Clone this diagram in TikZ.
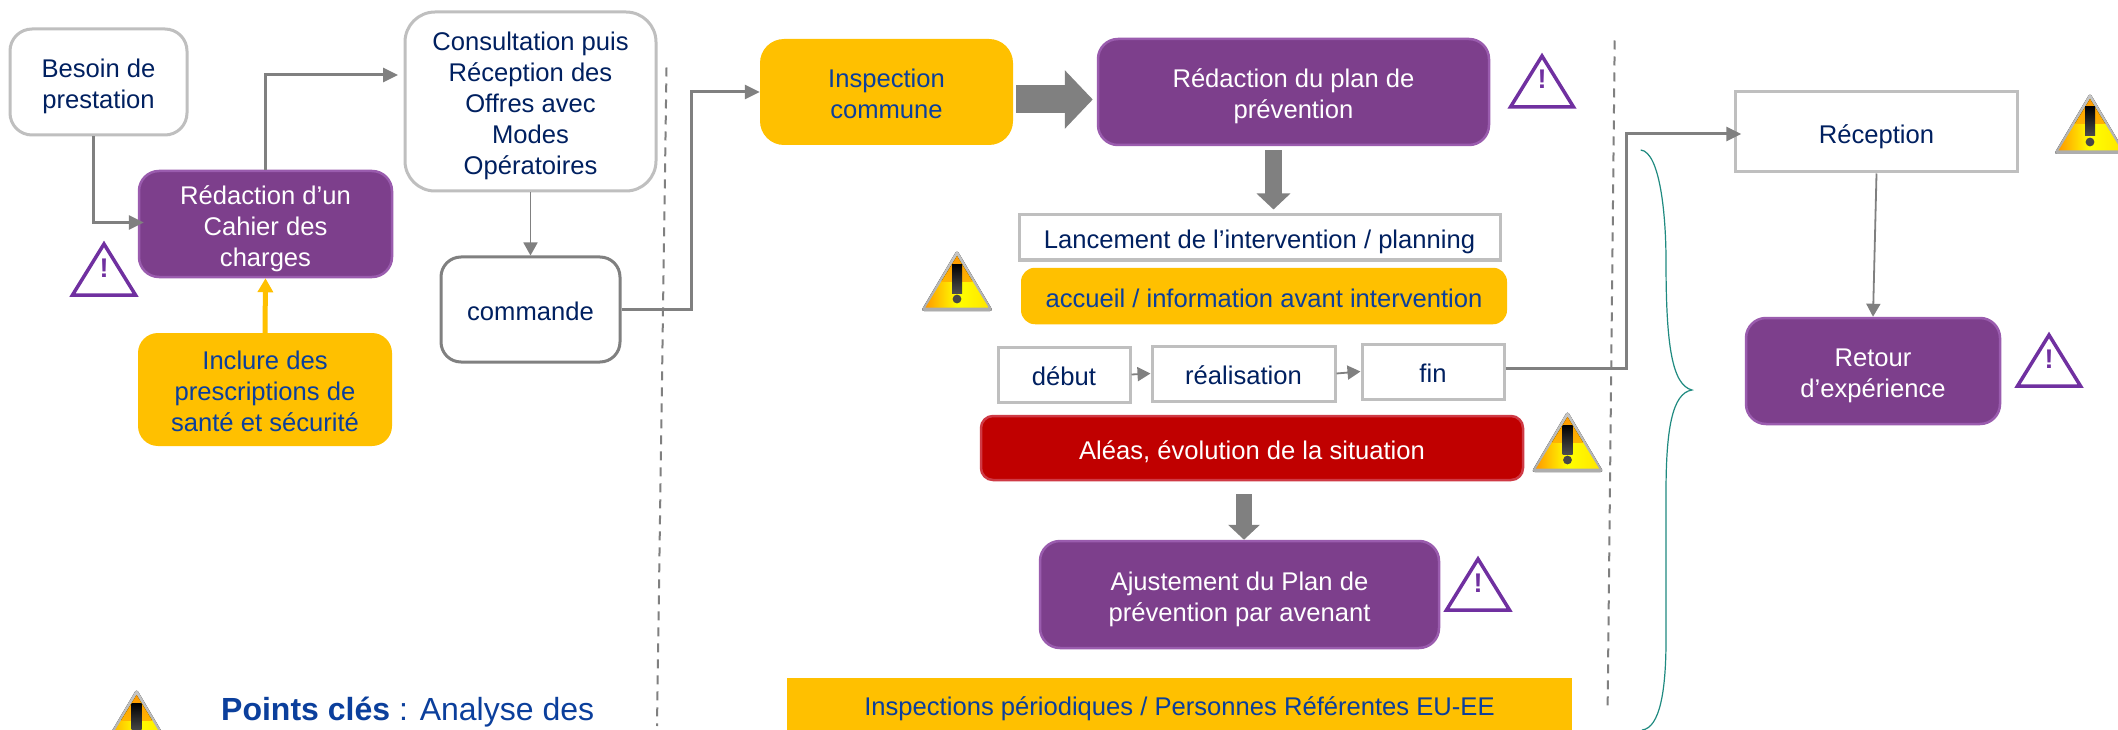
\documentclass[tikz,border=0pt]{standalone}
\usepackage{fontspec}
\setmainfont{Liberation Sans}
\usetikzlibrary{arrows.meta,calc}
\definecolor{navy}{HTML}{002060}
\definecolor{deepblue}{HTML}{0B3F9C}
\definecolor{purplefill}{HTML}{7D3F8C}
\definecolor{purpleedge}{HTML}{9A5CAE}
\definecolor{violet}{HTML}{7030A0}
\definecolor{amber}{HTML}{FFC000}
\definecolor{crimson}{HTML}{C00000}
\definecolor{crimsonedge}{HTML}{CF3A45}
\definecolor{linegrey}{HTML}{808080}
\definecolor{edgegrey}{HTML}{BFBFBF}
\definecolor{teal2}{HTML}{1F8A80}
\newcommand{\boxstrut}{\leavevmode\vrule height 28pt depth 5.6pt width 0pt\relax}
\tikzset{
  x=1pt,y=-1pt,
  boxbase/.style={inner sep=0pt,align=center,font=\fontsize{25.6}{31}\selectfont,
    execute at begin node=\boxstrut,execute at end node=\boxstrut},
  whitebox/.style={boxbase,draw=edgegrey,line width=3pt,fill=white,text=navy},
  whiteround/.style={whitebox,rounded corners=22pt},
  purplebox/.style={boxbase,draw=purpleedge,line width=2.5pt,fill=purplefill,text=white,rounded corners=20pt},
  amberbox/.style={boxbase,fill=amber,text=deepblue,rounded corners=20pt},
  redbox/.style={boxbase,draw=crimsonedge,line width=2.5pt,fill=crimson,text=white,rounded corners=12pt},
  conn/.style={draw=linegrey,line width=3pt,-{Triangle[length=15pt,width=14pt]}},
  thinconn/.style={draw=linegrey,line width=1.8pt,-{Triangle[length=13pt,width=14pt]}},
  goldconn/.style={draw=amber,line width=5pt,-{Triangle[length=14pt,width=15pt]}},
  heavyH/.style={draw=linegrey,line width=28pt,-{Triangle[length=28pt,width=57pt]}},
  heavyV/.style={draw=linegrey,line width=16.5pt,-{Triangle[length=16pt,width=33pt]}},
  divider/.style={draw=linegrey,line width=2pt,dash pattern=on 9pt off 7pt},
  pics/cautiontri/.style={code={
    \draw[violet,line width=3.5pt,line join=miter] (0,3)--(31.5,54)--(-31.5,54)--cycle;
    \node[anchor=base,text=violet,inner sep=0pt,font=\bfseries\fontsize{27}{27}\selectfont] at (0,36) {!};
  }},
  pics/warnicon/.style={code={
    \fill[top color=gray!45,bottom color=gray!65,rounded corners=3pt] (0,0)--(36,61)--(-36,61)--cycle;
    \begin{scope}
      \clip (0,6)--(31.5,57.5)--(-31.5,57.5)--cycle;
      \shade[left color=orange!80!yellow,right color=yellow!80!orange,middle color=yellow] (-32,0) rectangle (32,60);
      \fill[top color=orange!70!amber,bottom color=amber!80!orange] (-32,0) rectangle (32,31);
    \end{scope}
    \shade[top color=black,bottom color=black!70] (-5,14) rectangle (5,43);
    \fill[black!72] (0,49) circle (4.4pt);
  }}
}
\begin{document}
\begin{tikzpicture}
\clip (0,0) rectangle (2118,730);
\fill[white] (0,0) rectangle (2118,730);

% left column
\node[whiteround,minimum width=177pt,minimum height=106pt] (besoin) at (98.5,82) {Besoin de\boxstrut\\prestation};
\node[purplebox,minimum width=253pt,minimum height=106pt] (redac) at (265.5,224) {Rédaction d’un\boxstrut\\Cahier des\\charges};
\node[amberbox,minimum width=254pt,minimum height=113pt] (inclure) at (265,389.5) {Inclure des\boxstrut\\prescriptions de\\santé et sécurité};
\node[whiteround,rounded corners=30pt,minimum width=251pt,minimum height=179pt] (consult) at (530.5,101.5) {Consultation puis\boxstrut\\Réception des\\Offres avec\\Modes\\Opératoires};
\node[whitebox,draw=linegrey,rounded corners=20pt,minimum width=179pt,minimum height=105pt] (commande) at (530.5,309.5) {commande};

% centre column
\node[amberbox,rounded corners=24pt,minimum width=253pt,minimum height=106pt] (inspection) at (886.5,92) {Inspection\boxstrut\\commune};
\node[purplebox,minimum width=391pt,minimum height=106pt] (plan) at (1293.5,92) {Rédaction du plan de\boxstrut\\prévention};
\node[whitebox,minimum width=481pt,minimum height=45pt] (lancement) at (1259.5,237.5) {Lancement de l’intervention / planning};
\node[amberbox,rounded corners=14pt,minimum width=486pt,minimum height=56.5pt] (accueil) at (1264,296) {accueil / information avant intervention};
\node[whitebox,minimum width=132pt,minimum height=55pt] (debut) at (1064,374.5) {début};
\node[whitebox,minimum width=183pt,minimum height=55pt] (realisation) at (1243.5,373.5) {réalisation};
\node[whitebox,minimum width=142pt,minimum height=55pt] (fin) at (1433,371.5) {fin};
\node[redbox,minimum width=542pt,minimum height=64pt] (aleas) at (1252,448) {Aléas, évolution de la situation};
\node[purplebox,minimum width=399pt,minimum height=107pt] (ajust) at (1239.5,594.5) {Ajustement du Plan de\boxstrut\\prévention par avenant};
\node[amberbox,rounded corners=0pt,minimum width=785.5pt,minimum height=52pt] (periodic) at (1179.5,704) {Inspections périodiques / Personnes Référentes EU-EE};

% right column
\node[whitebox,minimum width=281.5pt,minimum height=80pt] (reception) at (1876.5,132) {Réception};
\node[purplebox,minimum width=254pt,minimum height=106pt] (retour) at (1873,371) {Retour\boxstrut\\d’expérience};

% key text
\node[anchor=base west,inner sep=0pt,text=deepblue,font=\fontsize{32}{36}\selectfont] (points) at (221,720.7) {\textbf{Points clés} : Analyse des};

% dividers
\coordinate (d1a) at (666.5,67.5); \coordinate (d1b) at (657,726);
\coordinate (d2a) at (1614.7,40.5); \coordinate (d2b) at (1607.6,710);
\draw[divider] (d1a) -- (d1b);
\draw[divider] (d2a) -- (d2b);

% connectors
\draw[conn] ([xshift=-5.5pt]besoin.south) |- ([xshift=6pt,yshift=1.5pt]redac.west);
\draw[conn] (redac.north) |- ([xshift=-5.5pt,yshift=26.5pt]consult.west);
\draw[thinconn] (consult.south) -- (commande.north);
\draw[goldconn] (inclure.north) -- (redac.south);
\draw[conn] (commande.east) -- ++(70,0) |- (inspection.west);
\draw[heavyH] ([xshift=3pt,yshift=-7.5pt]inspection.east) -- ([xshift=-4pt,yshift=-7.5pt]plan.west);
\draw[heavyV] ([xshift=-20pt,yshift=-4pt]plan.south) -- ([xshift=-20pt,yshift=4pt]plan.south |- lancement.north);
\draw[thinconn] (debut.east) -- (realisation.west);
\draw[thinconn] (realisation.east) -- (fin.west);
\draw[conn] ([yshift=3.5pt]fin.east) -- ++(121,0) |- ([xshift=7pt,yshift=-2pt]reception.west);
\draw[heavyV,-{Triangle[length=15pt,width=31pt]}] ([xshift=-8pt,yshift=-13pt]aleas.south) -- ([xshift=4.5pt]ajust.north);
\draw[thinconn] (reception.south) -- (retour.north);

% brace
\draw[teal2,line width=1.2pt] (1640.7,150) .. controls (1660,152) and (1666,215) .. (1666,261) .. controls (1666,345) and (1672,385) .. (1692,390) .. controls (1672,393) and (1666,430) .. (1666,493) -- (1666,640) .. controls (1666,690) and (1660,728) .. (1642,730);

% purple caution triangles
\pic at (104,241) {cautiontri};
\pic at (1542,53) {cautiontri};
\pic at (1478,556) {cautiontri};
\pic at (2049,332) {cautiontri};

% warning icons
\pic at (957,250) {warnicon};
\pic at (1567.5,411) {warnicon};
\pic at (2090,93) {warnicon};
\pic at (136.6,689) {warnicon};
\end{tikzpicture}
\end{document}
